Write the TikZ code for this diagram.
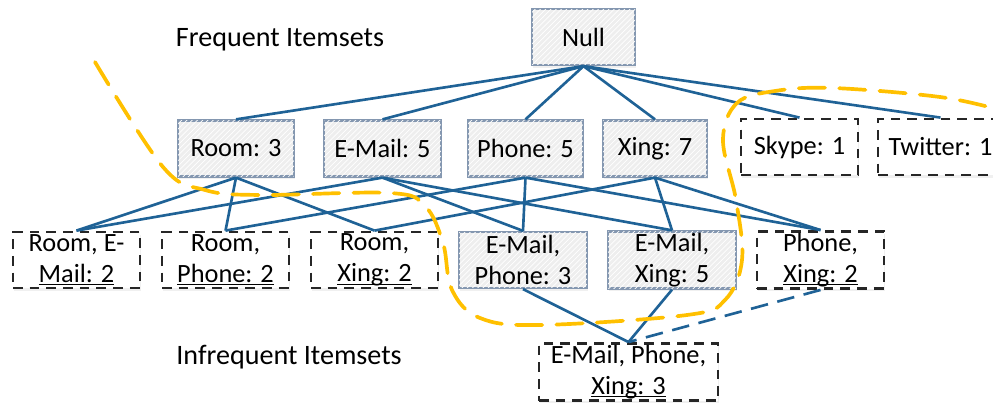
\documentclass[tikz,border=0pt]{standalone}
\usepackage{fontspec}
\setmainfont{Carlito}
\usetikzlibrary{positioning,shadows,patterns}
\definecolor{linkblue}{RGB}{31,98,150}
\definecolor{boxgray}{RGB}{132,151,176}
\definecolor{setyellow}{RGB}{255,192,0}
\newcommand\uln[1]{\setbox0\hbox{#1}\rlap{\rule[-1.8pt]{\wd0}{0.6pt}}\box0}

\begin{document}
\begin{tikzpicture}[x=0.02cm,y=-0.02cm]

\tikzstyle{every node}=[rectangle, minimum height=1.12cm, align=center, inner sep=1pt, font=\fontsize{15}{17.5}\selectfont]
\tikzstyle{freq}=[draw=boxgray, line width=1.3pt, fill=gray!13, postaction={pattern=north east lines, pattern color=white}, drop shadow={opacity=.12, shadow xshift=.6pt, shadow yshift=-1.5pt}]
\tikzstyle{infreq}=[draw=black!85, line width=1.6pt, dash pattern=on 5.5pt off 4pt, fill=white, drop shadow={opacity=.12, shadow xshift=.6pt, shadow yshift=-1.5pt}]
\tikzstyle{link}=[draw=linkblue, line width=1.5pt]
\tikzstyle{heading}=[draw=none, font=\fontsize{16}{19}\selectfont]
\tikzstyle{cutline}=[draw=setyellow, line width=2.1pt, dash pattern=on 15pt off 8pt, line cap=round]

\useasboundingbox (0,0) rectangle (993,402);

% lattice levels
\node[freq, minimum width=2.06cm] at (583.5,37) (null) {Null};

\node[freq, minimum width=2.32cm] at (236,148.5) (room) {Room: 3};
\node[freq, minimum width=2.34cm] at (382.5,148.5) (email) {E-Mail: 5};
\node[freq, minimum width=2.30cm] at (525.5,148.5) (phone) {Phone: 5};
\node[freq, minimum width=2.08cm] at (655,148.5) (xing) {Xing: 7};
\node[infreq, minimum width=2.34cm] at (799.5,147) (skype) {Skype: 1};
\node[infreq, minimum width=2.5cm] at (940.5,147) (twitter) {Twitter: 1};

\node[infreq, minimum width=2.54cm] at (76.5,260) (roomEmail) {Room, E-\\\uln{Mail: 2}};
\node[infreq, minimum width=2.54cm] at (225.5,260) (roomPhone) {Room,\\\uln{Phone: 2}};
\node[infreq, minimum width=2.54cm] at (374.5,260) (roomXing) {Room,\\\uln{Xing: 2}};
\node[freq, minimum width=2.56cm] at (523,260) (emailPhone) {E-Mail,\\Phone: 3};
\node[freq, minimum width=2.56cm] at (672,260) (emailXing) {E-Mail,\\Xing: 5};
\node[infreq, minimum width=2.54cm] at (820.5,260) (phoneXing) {Phone,\\\uln{Xing: 2}};

\node[infreq, minimum width=3.58cm] at (628.5,372) (emailPhoneXing) {E-Mail, Phone,\\\uln{Xing: 3}};

\node[heading] at (280,40) (freqTitle) {Frequent Itemsets};
\node[heading] at (289,357) (infreqTitle) {Infrequent Itemsets};

% edges
\foreach \n in {room,email,phone,xing,skype,twitter}
    \draw[link] (null.south) -- (\n.north);

\foreach \a/\b in {room/roomEmail, room/roomPhone, room/roomXing,
                   email/roomEmail, email/emailPhone, email/emailXing,
                   phone/roomPhone, phone/emailPhone, phone/phoneXing,
                   xing/roomXing, xing/emailXing, xing/phoneXing}
    \draw[link] (\a.south) -- (\b.north);

\draw[link] (emailPhone.south) -- (emailPhoneXing.north);
\draw[link] (emailXing.south) -- (emailPhoneXing.north);
\draw[link, dash pattern=on 10pt off 5.5pt] (phoneXing.south) -- (emailPhoneXing.north);

% border between frequent and infrequent
\draw[cutline] plot[smooth, tension=.6] coordinates {(95,62) (163,167) (205,190) (260,195) (390,193) (425,206) (443,243) (452,290) (480,318) (540,325) (687,315) (725,300) (742,260) (736,200) (723,140) (737,103) (775,91) (833,88) (940,97) (1000,110)};

\end{tikzpicture}
\end{document}
